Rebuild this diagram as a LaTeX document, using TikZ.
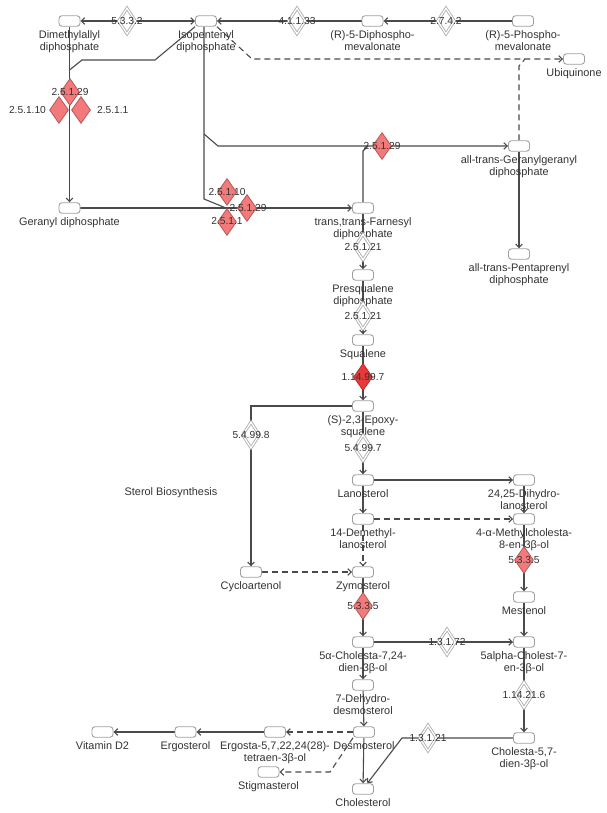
\documentclass[tikz,border=0pt]{standalone}
\usepackage{fontspec}
\setmainfont{Liberation Sans}
\usetikzlibrary{shapes.geometric,arrows.meta,calc}
\pgfdeclarelayer{bg}
\pgfsetlayers{bg,main}
\definecolor{txt}{HTML}{333333}
\definecolor{ln}{HTML}{4A4A4A}
\definecolor{boxc}{HTML}{A0A0A0}
\definecolor{dgray}{HTML}{A8A8A8}
\definecolor{rfill}{HTML}{F27A7A}
\definecolor{rdraw}{HTML}{B85858}
\definecolor{rrfill}{HTML}{E83A3A}
\definecolor{rrdraw}{HTML}{C02828}
\tikzset{
  cpd/.style={draw=boxc, rounded corners=3pt, minimum width=21pt, minimum height=10.5pt, inner sep=0pt, fill=white, line width=0.9pt},
  lbl/.style={font=\fontsize{10.9}{11.6}\selectfont, text=txt, align=center, inner sep=0pt},
  elbl/.style={font=\fontsize{10.2}{11}\selectfont, text=txt, inner sep=0pt},
  enz/.style={diamond, draw=dgray, double=white, double distance=1.3pt, fill=white, minimum width=17pt, minimum height=26pt, inner sep=0pt, line width=0.8pt},
  renz/.style={diamond, draw=rdraw, fill=rfill, minimum width=19pt, minimum height=27pt, inner sep=0pt, line width=0.8pt},
  rrenz/.style={diamond, draw=rrdraw, fill=rrfill, minimum width=19pt, minimum height=27pt, inner sep=0pt, line width=0.8pt},
  conn/.style={draw=ln, line width=1.1pt},
  arr/.style={conn, -{Straight Barb[length=3.5pt,width=6.5pt]}},
  darr/.style={arr, dash pattern=on 6pt off 4pt},
  dconn/.style={conn, dash pattern=on 6pt off 4pt},
  lab/.style={label={[lbl,label distance=4pt]below:{#1}}}
}
\begin{document}
\begin{tikzpicture}[x=1pt,y=-1pt]
\useasboundingbox (0,0) rectangle (606,813);

% compounds
\node[cpd,lab={Dimethylallyl\\diphosphate}] (dma) at (69.5,21) {};
\node[cpd,lab={Isopentenyl\\diphosphate}] (iso) at (206,21) {};
\node[cpd,lab={(R)-5-Diphospho-\\mevalonate}] (dpm) at (372.5,21) {};
\node[cpd,lab={(R)-5-Phospho-\\mevalonate}] (pm) at (523,21) {};
\node[cpd,lab={Ubiquinone}] (ubi) at (574,59) {};
\node[cpd,lab={Geranyl diphosphate}] (gpp) at (69.5,208) {};
\node[cpd,lab={trans,trans-Farnesyl\\diphosphate}] (fpp) at (363,208) {};
\node[cpd,lab={all-trans-Geranylgeranyl\\diphosphate}] (ggpp) at (519,146) {};
\node[cpd,lab={all-trans-Pentaprenyl\\diphosphate}] (ppp) at (519,254) {};
\node[cpd,lab={Presqualene\\diphosphate}] (psq) at (363,275) {};
\node[cpd,lab={Squalene}] (sq) at (363,340) {};
\node[cpd,lab={(S)-2,3-Epoxy-\\squalene}] (epo) at (363,406) {};
\node[cpd,lab={Lanosterol}] (lan) at (363,480) {};
\node[cpd,lab={14-Demethyl-\\lanosterol}] (dml) at (363,519) {};
\node[cpd,lab={Zymosterol}] (zym) at (363,572) {};
\node[cpd,lab={Cycloartenol}] (cyc) at (251,572) {};
\node[cpd,lab={24,25-Dihydro-\\lanosterol}] (dhl) at (524,480) {};
\node[cpd,lab={4-α-Methylcholesta-\\8-en-3β-ol}] (mch) at (524,519) {};
\node[cpd,lab={Mestenol}] (mes) at (524,597) {};
\node[cpd,lab={5α-Cholesta-7,24-\\dien-3β-ol}] (c724) at (363,642) {};
\node[cpd,lab={5alpha-Cholest-7-\\en-3β-ol}] (c7) at (524,642) {};
\node[cpd,lab={7-Dehydro-\\desmosterol}] (ddm) at (363,685) {};
\node[cpd,lab={Desmosterol}] (des) at (364,732) {};
\node[cpd,lab={Cholesterol}] (chol) at (363,789) {};
\node[cpd,lab={Cholesta-5,7-\\dien-3β-ol}] (c57) at (524,738) {};
\node[cpd,lab={Ergosta-5,7,22,24(28)-\\tetraen-3β-ol}] (erg5) at (275,732) {};
\node[cpd,lab={Ergosterol}] (ergo) at (185.5,732) {};
\node[cpd,lab={Vitamin D2}] (vd2) at (102.5,732) {};
\node[cpd,lab={Stigmasterol}] (stig) at (268.5,772) {};
\node[lbl] (sterol) at (171,493) {Sterol Biosynthesis};

% enzymes
\node[enz,label={[elbl]center:5.3.3.2}] (e5332) at (127,21) {};
\node[enz,label={[elbl]center:4.1.1.33}] (e41133) at (297,21) {};
\node[enz,label={[elbl]center:2.7.4.2}] (e2742) at (446,21) {};
\node[renz,label={[elbl]center:2.5.1.29}] (r29a) at (70,92) {};
\node[renz,label={[elbl,label distance=3pt]left:2.5.1.10}] (r10a) at (59,110) {};
\node[renz,label={[elbl,label distance=6pt]right:2.5.1.1}] (r1a) at (81,110) {};
\node[renz] (r10b) at (227,192) {};
\node[renz] (r1b) at (227,222) {};
\node[renz] (r29b) at (247,208) {};
\node[elbl] (r10bL) at (227,192) {2.5.1.10};
\node[elbl] (r1bL) at (227,221) {2.5.1.1};
\node[elbl] (r29bL) at (248,208) {2.5.1.29};
\node[renz,label={[elbl]center:2.5.1.29}] (r29c) at (382,146) {};
\node[enz,label={[elbl]center:2.5.1.21}] (e25121a) at (363,247) {};
\node[enz,label={[elbl]center:2.5.1.21}] (e25121b) at (363,316) {};
\node[rrenz,label={[elbl]center:1.14.99.7}] (e1149997) at (363,377) {};
\node[enz,label={[elbl]center:5.4.99.8}] (e54998) at (251,435) {};
\node[enz,label={[elbl]center:5.4.99.7}] (e54997) at (363,448) {};
\node[renz,label={[elbl]center:5.3.3.5}] (e5335a) at (524,560) {};
\node[renz,label={[elbl]center:5.3.3.5}] (e5335b) at (363,606) {};
\node[enz,label={[elbl]center:1.3.1.72}] (e13172) at (447,642) {};
\node[enz,label={[elbl]center:1.14.21.6}] (e114216) at (524,695) {};
\node[enz,label={[elbl]center:1.3.1.21}] (e13121) at (428,738) {};

% helper coordinates
\coordinate (ia) at (155,60);
\coordinate (ib) at (82,60);
\coordinate (ic) at (69.5,70);
\coordinate (id) at (204,199);
\coordinate (ie) at (226,208);
\coordinate (ib1) at (204,134);
\coordinate (ib2) at (218,146);
\coordinate (fa) at (363,151);
\coordinate (fb) at (368,146);
\coordinate (ua) at (252,59);
\coordinate (ga) at (519,66);
\coordinate (gb) at (525,59);
\coordinate (ea) at (251,406);
\coordinate (sa) at (330,772);
\coordinate (ca) at (402,738);

\begin{pgfonlayer}{bg}
\fill[white] (0,0) rectangle (606,813);
\draw[conn, {Straight Barb[length=3.5pt,width=6.5pt]}-{Straight Barb[length=3.5pt,width=6.5pt]}] (dma) -- (iso);
\draw[arr] (dpm) -- (iso);
\draw[arr] (pm) -- (dpm);
\draw[arr] (dma) -- (gpp);
\draw[conn] (iso.south west) -- (ia) -- (ib) -- (ic);
\draw[conn] (id |- iso.south) -- (id) -- (ie);
\draw[arr] (ib1) -- (ib2) -- (ggpp);
\draw[conn] (fpp) -- (fa) -- (fb);
\draw[arr] (gpp) -- (fpp);
\draw[darr] (iso.south east) -- (ua) -- (ubi);
\draw[dconn] (ggpp) -- (ga) -- (gb);
\draw[arr] (ggpp) -- (ppp);
\draw[arr] (fpp) -- (psq);
\draw[arr] (psq) -- (sq);
\draw[arr] (sq) -- (epo);
\draw[arr] (epo) -- (ea) -- (cyc);
\draw[arr] (epo) -- (lan);
\draw[arr] (lan) -- (dhl);
\draw[arr] (lan) -- (dml);
\draw[arr] (dhl) -- (mch);
\draw[darr] (dml) -- (mch);
\draw[darr] (dml) -- (zym);
\draw[darr] (cyc) -- (zym);
\draw[arr] (zym) -- (c724);
\draw[arr] (mch) -- (mes);
\draw[arr] (mes) -- (c7);
\draw[arr] (c724) -- (c7);
\draw[arr] (c7) -- (c57);
\draw[arr] (c724) -- (ddm);
\draw[arr] (ddm) -- (des);
\draw[arr] (des) -- (chol);
\draw[darr] (des) -- (erg5);
\draw[arr] (erg5) -- (ergo);
\draw[arr] (ergo) -- (vd2);
\draw[darr] (des.south west) -- (sa) -- (stig);
\draw[arr] (c57) -- (ca) -- (chol);
\end{pgfonlayer}
\end{tikzpicture}
\end{document}
